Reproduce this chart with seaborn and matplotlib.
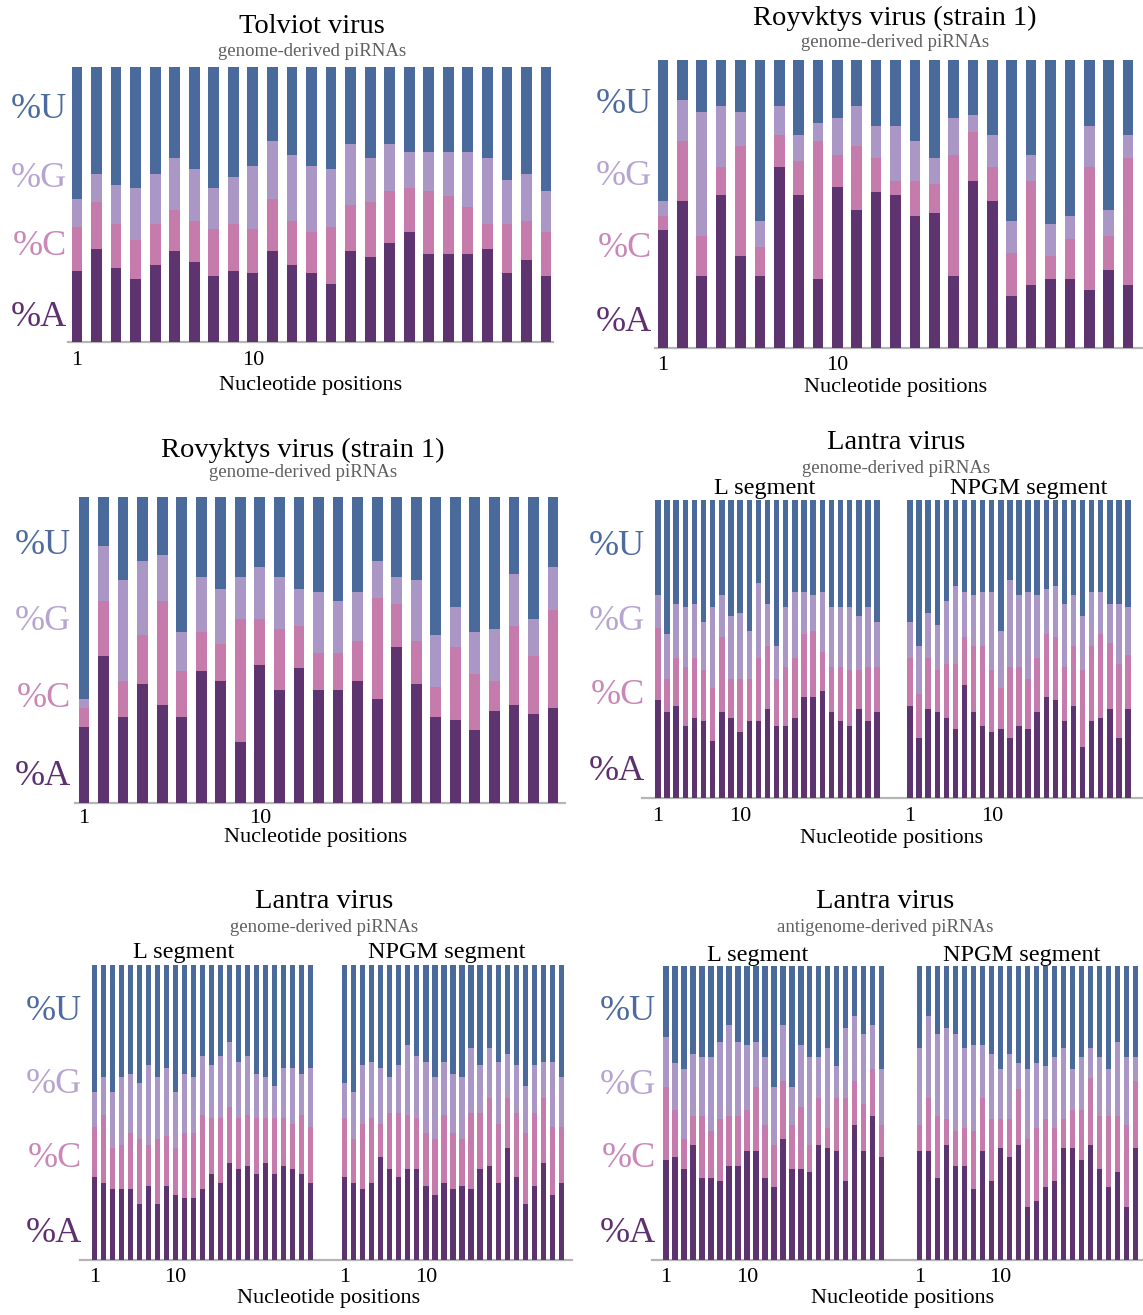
import numpy as np
import matplotlib
matplotlib.use("Agg")
import matplotlib.pyplot as plt
import seaborn as sns

sns.set_theme(style="white")
plt.rcParams["font.family"] = ["Liberation Serif", "DejaVu Serif"]
plt.rcParams["axes.facecolor"] = "none"

W, H = 1143, 1315
DPI = 100

# nucleotide colours
COL_U = "#4a6a9c"
COL_G = "#ab97c5"
COL_C = "#c67bad"
COL_A = "#5d3470"
LBL_COLORS = {"%U": "#4d6b9e", "%G": "#b7a5d1", "%C": "#c988b8", "%A": "#5e3070"}

# ---- Tolviot virus, genome-derived piRNAs (% per position 1-25) ----
tolviot_A = [26, 34, 27, 23, 28, 33, 29, 24, 26, 25, 33, 28, 25, 21, 33, 31, 36, 40, 32, 32, 32, 34, 25, 30, 24]
tolviot_C = [16, 17, 16, 14, 15, 15, 15, 17, 17, 16, 19, 16, 15, 21, 17, 20, 19, 16, 23, 21, 17, 9, 18, 14, 16]
tolviot_G = [10, 10, 14, 19, 18, 19, 19, 15, 17, 23, 21, 24, 24, 21, 22, 16, 17, 13, 14, 16, 20, 24, 16, 17, 15]
tolviot_U = [48, 39, 43, 44, 39, 33, 37, 44, 40, 36, 27, 32, 36, 37, 28, 33, 28, 31, 31, 31, 31, 33, 41, 39, 45]

# ---- Royvktys virus (strain 1), genome-derived piRNAs ----
royvktys_A = [41, 51, 25, 53, 32, 25, 63, 53, 24, 56, 48, 54, 53, 46, 47, 25, 58, 51, 18, 22, 24, 24, 20, 27, 22]
royvktys_C = [5, 21, 14, 10, 38, 10, 11, 12, 48, 11, 22, 12, 5, 12, 10, 42, 17, 12, 15, 36, 8, 14, 43, 12, 44]
royvktys_G = [5, 14, 43, 21, 12, 9, 10, 9, 6, 13, 14, 11, 19, 14, 9, 13, 6, 11, 11, 9, 11, 8, 14, 9, 8]
royvktys_U = [49, 14, 18, 16, 18, 56, 16, 26, 22, 20, 16, 23, 23, 28, 34, 20, 19, 26, 56, 33, 57, 54, 23, 52, 26]

# ---- Rovyktys virus (strain 1), genome-derived piRNAs ----
rovyktys_A = [25, 48, 28, 39, 32, 28, 43, 40, 20, 45, 37, 44, 37, 37, 40, 34, 51, 39, 28, 27, 24, 30, 32, 29, 31]
rovyktys_C = [6, 18, 12, 16, 34, 15, 13, 12, 40, 15, 20, 14, 12, 12, 13, 33, 14, 14, 10, 24, 18, 10, 26, 19, 32]
rovyktys_G = [3, 18, 33, 24, 15, 13, 18, 18, 14, 17, 17, 12, 20, 17, 16, 12, 9, 20, 17, 13, 14, 17, 17, 12, 14]
rovyktys_U = [66, 16, 27, 21, 19, 44, 26, 30, 26, 23, 26, 30, 31, 34, 31, 21, 26, 27, 45, 36, 44, 43, 25, 40, 23]

# ---- Lantra virus, genome-derived piRNAs (first library) ----
lantra1_L_A = [33, 29, 31, 24, 27, 26, 19, 29, 27, 22, 26, 26, 30, 24, 24, 27, 34, 34, 36, 29, 26, 24, 30, 26, 29]
lantra1_L_C = [24, 11, 16, 20, 20, 17, 18, 25, 13, 18, 14, 21, 21, 16, 20, 20, 21, 22, 13, 15, 18, 19, 13, 18, 15]
lantra1_L_G = [11, 15, 18, 20, 18, 16, 27, 14, 21, 22, 16, 25, 14, 11, 20, 22, 14, 12, 20, 20, 20, 21, 18, 20, 15]
lantra1_L_U = [32, 45, 35, 36, 35, 41, 36, 32, 39, 38, 44, 28, 35, 49, 36, 31, 31, 32, 31, 36, 36, 36, 39, 36, 41]
lantra1_N_A = [31, 20, 30, 29, 27, 23, 38, 29, 24, 22, 23, 20, 24, 23, 29, 34, 33, 26, 31, 17, 26, 27, 30, 20, 30]
lantra1_N_C = [16, 15, 17, 14, 18, 22, 16, 22, 27, 21, 14, 24, 20, 17, 18, 21, 21, 18, 20, 26, 25, 28, 22, 25, 18]
lantra1_N_G = [12, 16, 15, 15, 21, 26, 15, 17, 18, 26, 19, 29, 24, 29, 21, 15, 17, 21, 17, 18, 18, 14, 13, 20, 16]
lantra1_N_U = [41, 49, 38, 42, 34, 29, 31, 32, 31, 31, 44, 27, 32, 31, 32, 30, 29, 35, 32, 39, 31, 31, 35, 35, 36]

# ---- Lantra virus, genome-derived piRNAs (second library) ----
lantra2_L_A = [28, 26, 24, 24, 24, 19, 25, 19, 25, 22, 21, 21, 24, 29, 26, 33, 31, 32, 29, 33, 29, 32, 31, 29, 26]
lantra2_L_C = [17, 23, 14, 15, 19, 22, 14, 22, 17, 16, 22, 22, 25, 19, 22, 19, 17, 17, 19, 15, 19, 16, 15, 20, 19]
lantra2_L_G = [12, 13, 19, 23, 20, 19, 27, 21, 23, 19, 20, 19, 20, 18, 21, 22, 19, 20, 15, 14, 11, 17, 19, 14, 20]
lantra2_L_U = [43, 38, 43, 38, 37, 40, 34, 38, 35, 43, 37, 38, 31, 34, 31, 26, 33, 31, 37, 38, 41, 35, 35, 37, 35]
lantra2_N_A = [28, 26, 24, 26, 35, 31, 28, 31, 31, 25, 22, 26, 24, 25, 24, 31, 32, 26, 38, 28, 19, 25, 33, 22, 26]
lantra2_N_C = [20, 15, 22, 22, 11, 19, 22, 18, 17, 18, 19, 23, 19, 16, 26, 19, 23, 20, 17, 22, 24, 25, 22, 23, 19]
lantra2_N_G = [12, 16, 20, 19, 19, 12, 16, 24, 21, 24, 21, 18, 20, 21, 22, 16, 17, 21, 15, 16, 16, 16, 12, 22, 17]
lantra2_N_U = [40, 43, 34, 33, 35, 38, 34, 27, 31, 33, 38, 33, 37, 38, 28, 34, 28, 33, 30, 34, 41, 34, 33, 33, 38]

# ---- Lantra virus, antigenome-derived piRNAs ----
lantra3_L_A = [34, 35, 31, 39, 28, 28, 27, 32, 32, 37, 37, 28, 25, 41, 31, 31, 30, 39, 38, 37, 27, 46, 37, 49, 35]
lantra3_L_C = [25, 16, 10, 10, 21, 16, 21, 17, 17, 14, 22, 18, 14, 20, 15, 21, 9, 16, 7, 18, 28, 15, 16, 16, 11]
lantra3_L_G = [17, 16, 24, 21, 20, 25, 26, 31, 25, 22, 15, 23, 20, 19, 13, 21, 30, 14, 27, 11, 24, 22, 24, 15, 19]
lantra3_L_U = [24, 33, 35, 30, 31, 31, 26, 20, 26, 27, 26, 31, 41, 20, 41, 27, 31, 31, 28, 34, 21, 17, 23, 20, 35]
lantra3_N_A = [37, 37, 28, 39, 32, 32, 24, 37, 27, 38, 35, 39, 18, 20, 25, 27, 38, 38, 34, 39, 31, 25, 30, 18, 38]
lantra3_N_C = [9, 18, 21, 9, 12, 13, 20, 18, 21, 10, 13, 19, 23, 25, 23, 18, 10, 13, 17, 23, 18, 24, 19, 28, 23]
lantra3_N_G = [26, 28, 28, 31, 33, 27, 29, 18, 22, 17, 22, 9, 24, 22, 18, 24, 24, 14, 18, 10, 20, 16, 25, 23, 8]
lantra3_N_U = [28, 17, 23, 21, 23, 28, 27, 27, 30, 35, 30, 33, 35, 33, 34, 31, 28, 35, 31, 28, 31, 35, 26, 31, 31]

tick_labels = ["1", "10"]
nuc_labels = ["%U", "%G", "%C", "%A"]
xlabel_text = "Nucleotide positions"


def rect(left, top, right, bottom):
    return [left / W, 1 - bottom / H, (right - left) / W, (bottom - top) / H]


def stacked(ax, a, c, g, u, width, pad):
    a, c, g, u = (np.asarray(v, dtype=float) for v in (a, c, g, u))
    pos = np.arange(1, len(a) + 1)
    layers = [(a + c + g + u, COL_U), (a + c + g, COL_G), (a + c, COL_C), (a, COL_A)]
    for top, col in layers:
        sns.barplot(x=pos, y=top, color=col, width=width, saturation=1,
                    errorbar=None, ax=ax, linewidth=0)
    ax.set_xlim(-0.5, len(a) - 0.5)
    ax.set_ylim(0, 100)
    ax.set_yticks([])
    ax.set_xticks([0, 9])
    ax.set_xticklabels(tick_labels)
    ax.tick_params(axis="x", length=0, pad=pad, labelsize=16, labelcolor="black")
    ax.set_xlabel("")
    ax.set_ylabel("")
    for s in ax.spines.values():
        s.set_visible(False)


panels = [
    dict(title="Tolviot virus", sub="genome-derived piRNAs",
         series=[(tolviot_A, tolviot_C, tolviot_G, tolviot_U)],
         xs=[(67.2, 555.8)], top=67, base=342, line=(68, 553), lab_r=67,
         t=(312, 33), s=(312, 56), segs=None, xl=(311, 390), pad=6.5, width=0.55),
    dict(title="Royvktys virus (strain 1)", sub="genome-derived piRNAs",
         series=[(royvktys_A, royvktys_C, royvktys_G, royvktys_U)],
         xs=[(653.3, 1137.7)], top=60, base=348, line=(655, 1143), lab_r=652,
         t=(895, 25), s=(895, 47), segs=None, xl=(896, 392), pad=6.0, width=0.55),
    dict(title="Rovyktys virus (strain 1)", sub="genome-derived piRNAs",
         series=[(rovyktys_A, rovyktys_C, rovyktys_G, rovyktys_U)],
         xs=[(74.2, 562.8)], top=497, base=803, line=(75, 565), lab_r=71,
         t=(303, 457), s=(303, 477), segs=None, xl=(316, 842), pad=4.5, width=0.55),
    dict(title="Lantra virus", sub="genome-derived piRNAs",
         series=[(lantra1_L_A, lantra1_L_C, lantra1_L_G, lantra1_L_U),
                 (lantra1_N_A, lantra1_N_C, lantra1_N_G, lantra1_N_U)],
         xs=[(653.4, 881.6), (905.5, 1132.5)], top=500, base=798, line=(642, 1143), lab_r=645,
         t=(896, 449), s=(896, 473), segs=[(765, 494), (1029, 494)], xl=(892, 843), pad=6.5, width=0.6),
    dict(title="Lantra virus", sub="genome-derived piRNAs",
         series=[(lantra2_L_A, lantra2_L_C, lantra2_L_G, lantra2_L_U),
                 (lantra2_N_A, lantra2_N_C, lantra2_N_G, lantra2_N_U)],
         xs=[(89.8, 315.2), (339.8, 566.2)], top=965, base=1260, line=(80, 572), lab_r=82,
         t=(324, 908), s=(324, 932), segs=[(184, 958), (447, 958)], xl=(329, 1303), pad=5.5, width=0.6),
    dict(title="Lantra virus", sub="antigenome-derived piRNAs",
         series=[(lantra3_L_A, lantra3_L_C, lantra3_L_G, lantra3_L_U),
                 (lantra3_N_A, lantra3_N_C, lantra3_N_G, lantra3_N_U)],
         xs=[(661.5, 886.2), (914.8, 1140.2)], top=966, base=1260, line=(652, 1143), lab_r=656,
         t=(885, 908), s=(885, 932), segs=[(758, 961), (1022, 961)], xl=(903, 1303), pad=5.5, width=0.6),
]

label_fracs = [0.815, 0.565, 0.315, 0.06]
segment_names = ["L segment", "NPGM segment"]

fig = plt.figure(figsize=(W / DPI, H / DPI), dpi=DPI)
fig.patch.set_facecolor("white")

for p in panels:
    # baseline frame spanning the whole panel
    fr = fig.add_axes(rect(p["line"][0], p["top"], p["line"][1], p["base"]))
    fr.set_xticks([])
    fr.set_yticks([])
    for name, s in fr.spines.items():
        s.set_visible(name == "bottom")
    fr.spines["bottom"].set_color("#b5b5b5")
    fr.spines["bottom"].set_linewidth(1.6)

    for (a, c, g, u), (x0, x1) in zip(p["series"], p["xs"]):
        ax = fig.add_axes(rect(x0, p["top"], x1, p["base"]))
        stacked(ax, a, c, g, u, p["width"], p["pad"])

    # nucleotide labels on the left
    for lab, fy in zip(nuc_labels, label_fracs):
        ypx = p["base"] - fy * (p["base"] - p["top"])
        fig.text(p["lab_r"] / W, 1 - ypx / H, lab, ha="right", va="baseline",
                 fontsize=26, color=LBL_COLORS[lab])

    fig.text(p["t"][0] / W, 1 - p["t"][1] / H, p["title"], ha="center",
             va="baseline", fontsize=20.5, color="black")
    fig.text(p["s"][0] / W, 1 - p["s"][1] / H, p["sub"], ha="center",
             va="baseline", fontsize=13.5, color="#5f5f5f")
    if p["segs"]:
        for name, (sx, sy) in zip(segment_names, p["segs"]):
            fig.text(sx / W, 1 - sy / H, name, ha="center", va="baseline",
                     fontsize=17.5, color="black")
    fig.text(p["xl"][0] / W, 1 - p["xl"][1] / H, xlabel_text, ha="center",
             va="baseline", fontsize=16, color="black")

fig.savefig("out.png", dpi=DPI, facecolor="white")
